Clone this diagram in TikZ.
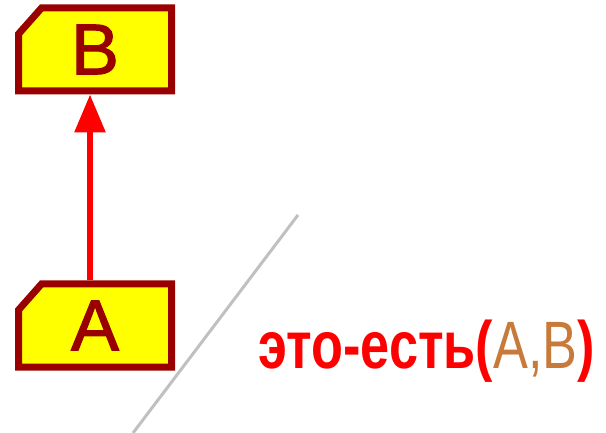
\documentclass[tikz,border=0pt]{standalone}
\usepackage{fontspec}
\setmainfont{Liberation Sans}
\newfontfamily\relfont[FakeStretch=0.78]{Liberation Sans}
\newfontfamily\boxfont[FakeBold=1.5]{Liberation Sans}
\usetikzlibrary{positioning,arrows.meta}

\definecolor{boxborder}{HTML}{990000}
\definecolor{boxfill}{HTML}{FFFF00}
\definecolor{argcolor}{HTML}{C87A3A}
\definecolor{slashgray}{HTML}{C0C0C0}

\tikzset{
  concept/.style={rectangle,minimum width=153pt,minimum height=83pt,
    inner sep=0pt,outer sep=0pt,
    append after command={\pgfextra{
      \draw[boxborder,fill=boxfill,line width=7pt]
      (\tikzlastnode.south west) -- (\tikzlastnode.south east)
      -- (\tikzlastnode.north east) -- ([xshift=23pt]\tikzlastnode.north west)
      -- ([yshift=-26pt]\tikzlastnode.north west) -- cycle;}},
    label={[text=boxborder,font=\boxfont\fontsize{72}{72}\selectfont]center:#1}},
  isa/.style={-{Triangle[length=38pt,width=30pt]},draw=red,line width=6pt,
    shorten <=3.5pt,shorten >=3.5pt}
}

\begin{document}
\begin{tikzpicture}[x=1pt,y=-1pt]
                \useasboundingbox (0,0) rectangle (606,433);
                \node[concept=A] (a) at (95,325.5) {};
                \node[concept=B,above=193pt of a] (b) {};
                \draw[isa] ([xshift=-5pt]a.north) -- ([xshift=-5pt]b.south);
                \draw[slashgray,line width=3pt] (298,215) -- (133,433);
                \node[anchor=base west,inner sep=0pt,text=red,
                      font=\relfont\bfseries\fontsize{67}{67}\selectfont] (rel) at (258,368)
                      {это-есть(\textcolor{argcolor}{\mdseries A,B})};
\end{tikzpicture}
\end{document}
